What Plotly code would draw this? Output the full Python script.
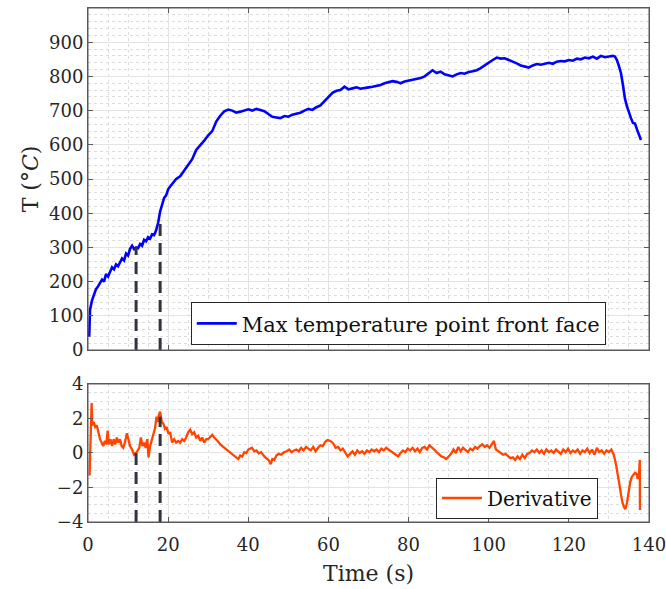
import plotly.graph_objects as go
from plotly.subplots import make_subplots

# ---- data ----
time_T = [0.3, 0.5, 1.0, 1.5, 2.0, 2.5, 3.0, 3.5, 4.0, 4.5, 5.0, 5.5, 6.0, 6.5, 7.0, 7.5, 8.0, 8.5, 9.0, 9.5,
          10.0, 10.5, 11.0, 11.5, 12.0, 12.5, 13.0, 13.5, 14.0, 14.5, 15.0, 15.5, 16.0, 16.5, 17.0, 17.5, 18.0,
          18.5, 19.0, 19.5, 20.0, 20.5, 21.0, 22, 23, 24, 25, 26, 27, 28, 29, 30, 31, 32, 33, 34, 35, 36, 37,
          38, 39, 40, 41, 42, 43, 44, 45, 46, 47, 48, 49, 50, 51, 52, 53, 54, 55, 56, 57, 58, 59, 60, 61, 62,
          63, 64, 65, 66, 67, 68, 69, 70, 71, 72, 73, 74, 75, 76, 77, 78, 79, 80, 81, 82, 83, 84, 85, 86, 87,
          88, 89, 90, 91, 92, 93, 94, 95, 96, 97, 98, 99, 100, 101, 102, 103, 104, 105, 106, 107, 108, 109,
          110, 111, 112, 113, 114, 115, 116, 117, 118, 119, 120, 121, 122, 123, 124, 125, 126, 127, 128, 129,
          130, 131, 131.5, 132, 132.5, 133, 133.5, 134, 134.5, 135, 135.5, 136, 136.5, 137, 137.5, 138]
temperature = [39, 117, 145, 165, 178, 186, 195, 206, 200, 222, 215, 230, 242, 236, 250, 245, 258, 268, 262, 282,
               276, 296, 305, 295, 300, 298, 310, 305, 322, 318, 330, 326, 338, 336, 350, 372, 405,
               425, 445, 452, 470, 478, 485, 500, 508, 525, 540, 558, 585, 598, 612, 628, 640, 668, 685, 698, 703, 700, 694,
               697, 701, 704, 700, 705, 702, 698, 690, 682, 680, 678, 684, 682, 688, 690, 694, 700, 705, 702, 710, 715, 728, 740, 752, 758,
               760, 770, 762, 765, 768, 764, 767, 768, 770, 772, 775, 780, 782, 786, 784, 780, 785, 787, 790, 792, 795, 800, 808, 818, 810,
               814, 806, 802, 800, 806, 810, 808, 813, 815, 818, 824, 832, 842, 848, 855, 852, 853, 848, 845, 838, 832, 830,
               826, 832, 836, 834, 838, 840, 837, 843, 845, 844, 848, 846, 852, 850, 855, 853, 858, 852, 860, 856,
               858, 860, 858, 848, 830, 810, 775, 735, 712, 693, 678, 664, 662, 645, 630, 614]

time_d = [0.4, 0.7, 0.9, 1.1, 1.4, 1.8, 2.2, 2.6, 3.0, 3.4, 3.8, 4.2, 4.6, 4.9, 5.2, 5.6, 6.0, 6.4, 6.8, 7.2,
          7.6, 8.0, 8.4, 8.8, 9.2, 9.7, 10.1, 10.5, 11.0, 11.5, 12.0, 12.4, 12.8, 13.2, 13.6, 14.0, 14.4, 14.8,
          15.1, 15.5, 15.9, 16.3, 16.7, 17.1, 17.4, 17.7, 18.0, 18.4, 18.8, 19.2, 19.6, 20.1, 20.5, 21.0, 21.5,
          22.0, 22.5, 23.0, 23.5, 24.0, 24.5, 25.0, 25.5, 26.0, 26.5, 27.0, 27.5, 28.0, 28.5, 29.0, 29.5, 30.0,
          30.5, 31.0, 31.5, 32.0, 32.5, 33.0, 34.0, 35.0, 36.0, 37.0, 37.5, 38.0, 38.5, 39.0, 39.5, 40.0, 40.9,
          41.5, 42.0, 42.6, 43.2, 44.0, 44.6, 45.2, 45.6, 46.0, 46.5, 47.0, 47.6, 48.2, 49.0, 49.6, 50.2, 50.8,
          51.4, 52.0, 52.6, 53.2, 53.8, 54.4, 55.0, 55.6, 56.2, 56.8, 57.4, 58.0, 58.6, 59.2, 59.8, 60.5, 61.2,
          61.8, 62.4, 63.0, 63.6, 64.2, 64.8, 65.4, 66.0, 66.6, 67.2, 67.8, 68.4, 69.0, 69.6, 70.2, 70.8, 71.4,
          72.0, 72.6, 73.2, 73.8, 74.4, 75.0, 75.6, 76.2, 76.8, 77.4, 78.0, 78.6, 79.2, 79.8, 80.4, 81.0, 81.6,
          82.2, 82.8, 83.4, 84.0, 84.6, 85.2, 85.8, 86.4, 87.0, 87.6, 88.2, 88.8, 89.4, 90.0, 90.6, 91.2, 91.8,
          92.4, 93.0, 93.6, 94.2, 94.8, 95.4, 96.0, 96.6, 97.2, 97.8, 98.4, 99.0, 99.6, 100.2, 100.8, 101.3,
          101.8, 102.4, 103.0, 103.6, 104.2, 104.8, 105.4, 106.0, 106.6, 107.2, 107.8, 108.4, 109.0, 109.6,
          110.2, 110.8, 111.4, 112.0, 112.6, 113.2, 113.8, 114.4, 115.0, 115.6, 116.2, 116.8, 117.4, 118.0,
          118.6, 119.2, 119.8, 120.4, 121.0, 121.6, 122.2, 122.8, 123.4, 124.0, 124.6, 125.2, 125.8, 126.4,
          127.0, 127.6, 128.2, 128.8, 129.4, 130.0, 130.6, 131.2, 131.7, 132.2, 132.6, 133.0, 133.4, 133.8,
          134.1, 134.5, 134.9, 135.3, 135.7, 136.1, 136.5, 136.9, 137.2, 137.5, 137.7, 137.75]
derivative = [-1.3, 1.0, 2.9, 1.6, 1.8, 1.5, 1.6, 1.2, 0.8, 0.6, 0.4, 0.7, 0.5, 1.3, 0.5, 0.8, 0.4, 0.8, 0.5, 0.9,
              0.6, 0.8, 0.4, 0.3, 0.6, 1.15, 0.7, 0.4, 0.2, -0.1, 0.0, 0.2, 0.3, 0.9, 0.4, 0.6, 0.3, 0.8,
              -0.25, 0.4, 0.7, 1.0, 1.4, 2.1, 1.8, 2.2, 2.4, 1.8, 1.7, 1.4, 1.5, 1.1, 1.2, 0.6, 0.8,
              0.6, 0.7, 0.6, 0.8, 0.7, 0.9, 1.2, 1.35, 1.1, 1.2, 0.9, 1.0, 0.7, 0.9, 0.6, 0.8, 0.8,
              0.9, 1.05, 0.9, 0.8, 0.65, 0.5, 0.3, 0.1, -0.05, -0.25, -0.35, -0.15, -0.2, 0.05, 0.0, 0.2, 0.3,
              0.1, 0.15, -0.02, 0.05, -0.2, -0.3, -0.45, -0.65, -0.35, -0.4, -0.15, -0.05, -0.1, 0.05, 0.1, 0.2, 0.05,
              0.15, 0.2, 0.1, 0.3, 0.15, 0.35, 0.25, 0.15, 0.35, 0.1, 0.3, 0.45, 0.4, 0.65, 0.75, 0.7, 0.55,
              0.3, 0.35, 0.15, 0.25, 0.0, -0.2, -0.05, 0.1, -0.1, 0.15, 0.0, 0.1, -0.05, 0.15, 0.05, 0.2, 0.1,
              0.2, 0.05, 0.25, 0.15, 0.3, 0.2, 0.1, 0.0, -0.1, -0.2, 0.0, 0.15, 0.05, 0.25, 0.15, 0.3, 0.1,
              0.25, 0.05, 0.3, 0.35, 0.2, 0.45, 0.35, 0.2, 0.05, -0.1, -0.2, -0.25, -0.35, -0.2, -0.05, 0.2, 0.0,
              0.35, 0.1, 0.3, 0.2, 0.05, 0.25, 0.15, 0.35, 0.25, 0.4, 0.5, 0.35, 0.45, 0.3, 0.5, 0.7,
              0.2, 0.1, 0.0, -0.1, -0.05, -0.2, -0.3, -0.25, -0.4, -0.2, -0.35, -0.1, -0.3, -0.05,
              0.0, 0.15, 0.05, 0.2, 0.0, 0.15, -0.05, 0.2, 0.05, 0.15, 0.0, 0.2, 0.1, -0.05,
              0.2, 0.05, 0.25, 0.0, 0.15, 0.05, 0.2, -0.05, 0.15, 0.05, 0.25, 0.0, 0.2, -0.1,
              0.3, 0.05, 0.15, -0.05, 0.15, 0.05, 0.2, -0.1, -0.6, -1.2, -1.8, -2.4, -2.9, -3.15,
              -3.25, -2.9, -2.2, -1.7, -1.4, -1.3, -1.15, -1.2, -1.5, -1.3, -0.4, -3.3]

event_times = [12, 18]
event_T = [300, 373]
event_d = [0.3, 2.1]

x_ticks = [0, 20, 40, 60, 80, 100, 120, 140]
T_ticks = [0, 100, 200, 300, 400, 500, 600, 700, 800, 900]
d_ticks = [-4, -2, 0, 2, 4]
T_range = [0, 1000]
d_range = [-4, 4]

FONT = "DejaVu Serif"
TXT = "#262626"
AX = "#5a5a5a"
DASH = "#33333f"

fig = make_subplots(rows=2, cols=1, shared_xaxes=True, vertical_spacing=0.0)

fig.add_trace(go.Scatter(x=time_T, y=temperature, mode="lines",
                         line=dict(color="#0000ff", width=2.6),
                         name="Max temperature point front face", legend="legend"), row=1, col=1)
fig.add_trace(go.Scatter(x=time_d, y=derivative, mode="lines",
                         line=dict(color="#ff4500", width=2.3),
                         name="Derivative", legend="legend2"), row=2, col=1)

ex_top, ey_top, ex_bot, ey_bot = [], [], [], []
for t, vT, vd in zip(event_times, event_T, event_d):
    ex_top += [t, t, None]
    ey_top += [T_range[0], vT, None]
    ex_bot += [t, t, None]
    ey_bot += [d_range[0], vd, None]
fig.add_trace(go.Scatter(x=ex_top, y=ey_top, mode="lines", showlegend=False,
                         line=dict(color=DASH, width=3, dash="12px,7px")), row=1, col=1)
fig.add_trace(go.Scatter(x=ex_bot, y=ey_bot, mode="lines", showlegend=False,
                         line=dict(color=DASH, width=3, dash="12px,7px")), row=2, col=1)

common_axis = dict(showline=True, linecolor=AX, linewidth=1, mirror="ticks",
                   ticks="inside", ticklen=5, tickcolor=AX, zeroline=False, automargin=False,
                   ticklabeloverflow="allow",
                   showgrid=True, gridcolor="#e3e3e3", gridwidth=1,
                   tickfont=dict(family=FONT, size=18, color=TXT))

fig.update_xaxes(**common_axis, range=[0, 140], tickvals=x_ticks,
                 minor=dict(dtick=5, showgrid=True, gridcolor="#dcdcdc", griddash="dot", ticks=""))
fig.update_xaxes(showticklabels=False, row=1, col=1)
fig.update_xaxes(ticklabelstandoff=6,
                 title=dict(text="Time (s)", font=dict(family=FONT, size=22, color=TXT), standoff=12),
                 row=2, col=1)

fig.update_yaxes(**common_axis)
fig.update_yaxes(range=T_range, tickvals=T_ticks, domain=[0.3346, 1.0],
                 minor=dict(dtick=20, showgrid=True, gridcolor="#dcdcdc", griddash="dot", ticks=""),
                 title=dict(text="T (°<i>C</i>)", font=dict(family=FONT, size=22, color=TXT), standoff=4),
                 row=1, col=1)
fig.update_yaxes(range=d_range, tickvals=d_ticks, domain=[0.0, 0.2685],
                 minor=dict(dtick=0.5, showgrid=True, gridcolor="#dcdcdc", griddash="dot", ticks=""),
                 row=2, col=1)

# axis frames
for xr, yr in (("x domain", "y domain"), ("x2 domain", "y2 domain")):
    fig.add_shape(type="rect", xref=xr, yref=yr, x0=0, x1=1, y0=0, y1=1,
                  line=dict(color=AX, width=1), fillcolor="rgba(0,0,0,0)", layer="above")

fig.update_layout(
    width=666, height=589,
    margin=dict(l=88, r=17, t=8, b=67),
    paper_bgcolor="white", plot_bgcolor="white",
    font=dict(family=FONT, color=TXT),
    legend=dict(x=0.923, xanchor="right", y=0.344, yanchor="bottom",
                bgcolor="white", bordercolor=TXT, borderwidth=1,
                font=dict(family=FONT, size=21, color="#111111"),
                itemwidth=40, tracegroupgap=0),
    legend2=dict(x=0.909, xanchor="right", y=0.0068, yanchor="bottom",
                 bgcolor="white", bordercolor=TXT, borderwidth=1,
                 font=dict(family=FONT, size=20, color="#111111"),
                 itemwidth=40, tracegroupgap=0),
)

fig.write_html("out.html")
